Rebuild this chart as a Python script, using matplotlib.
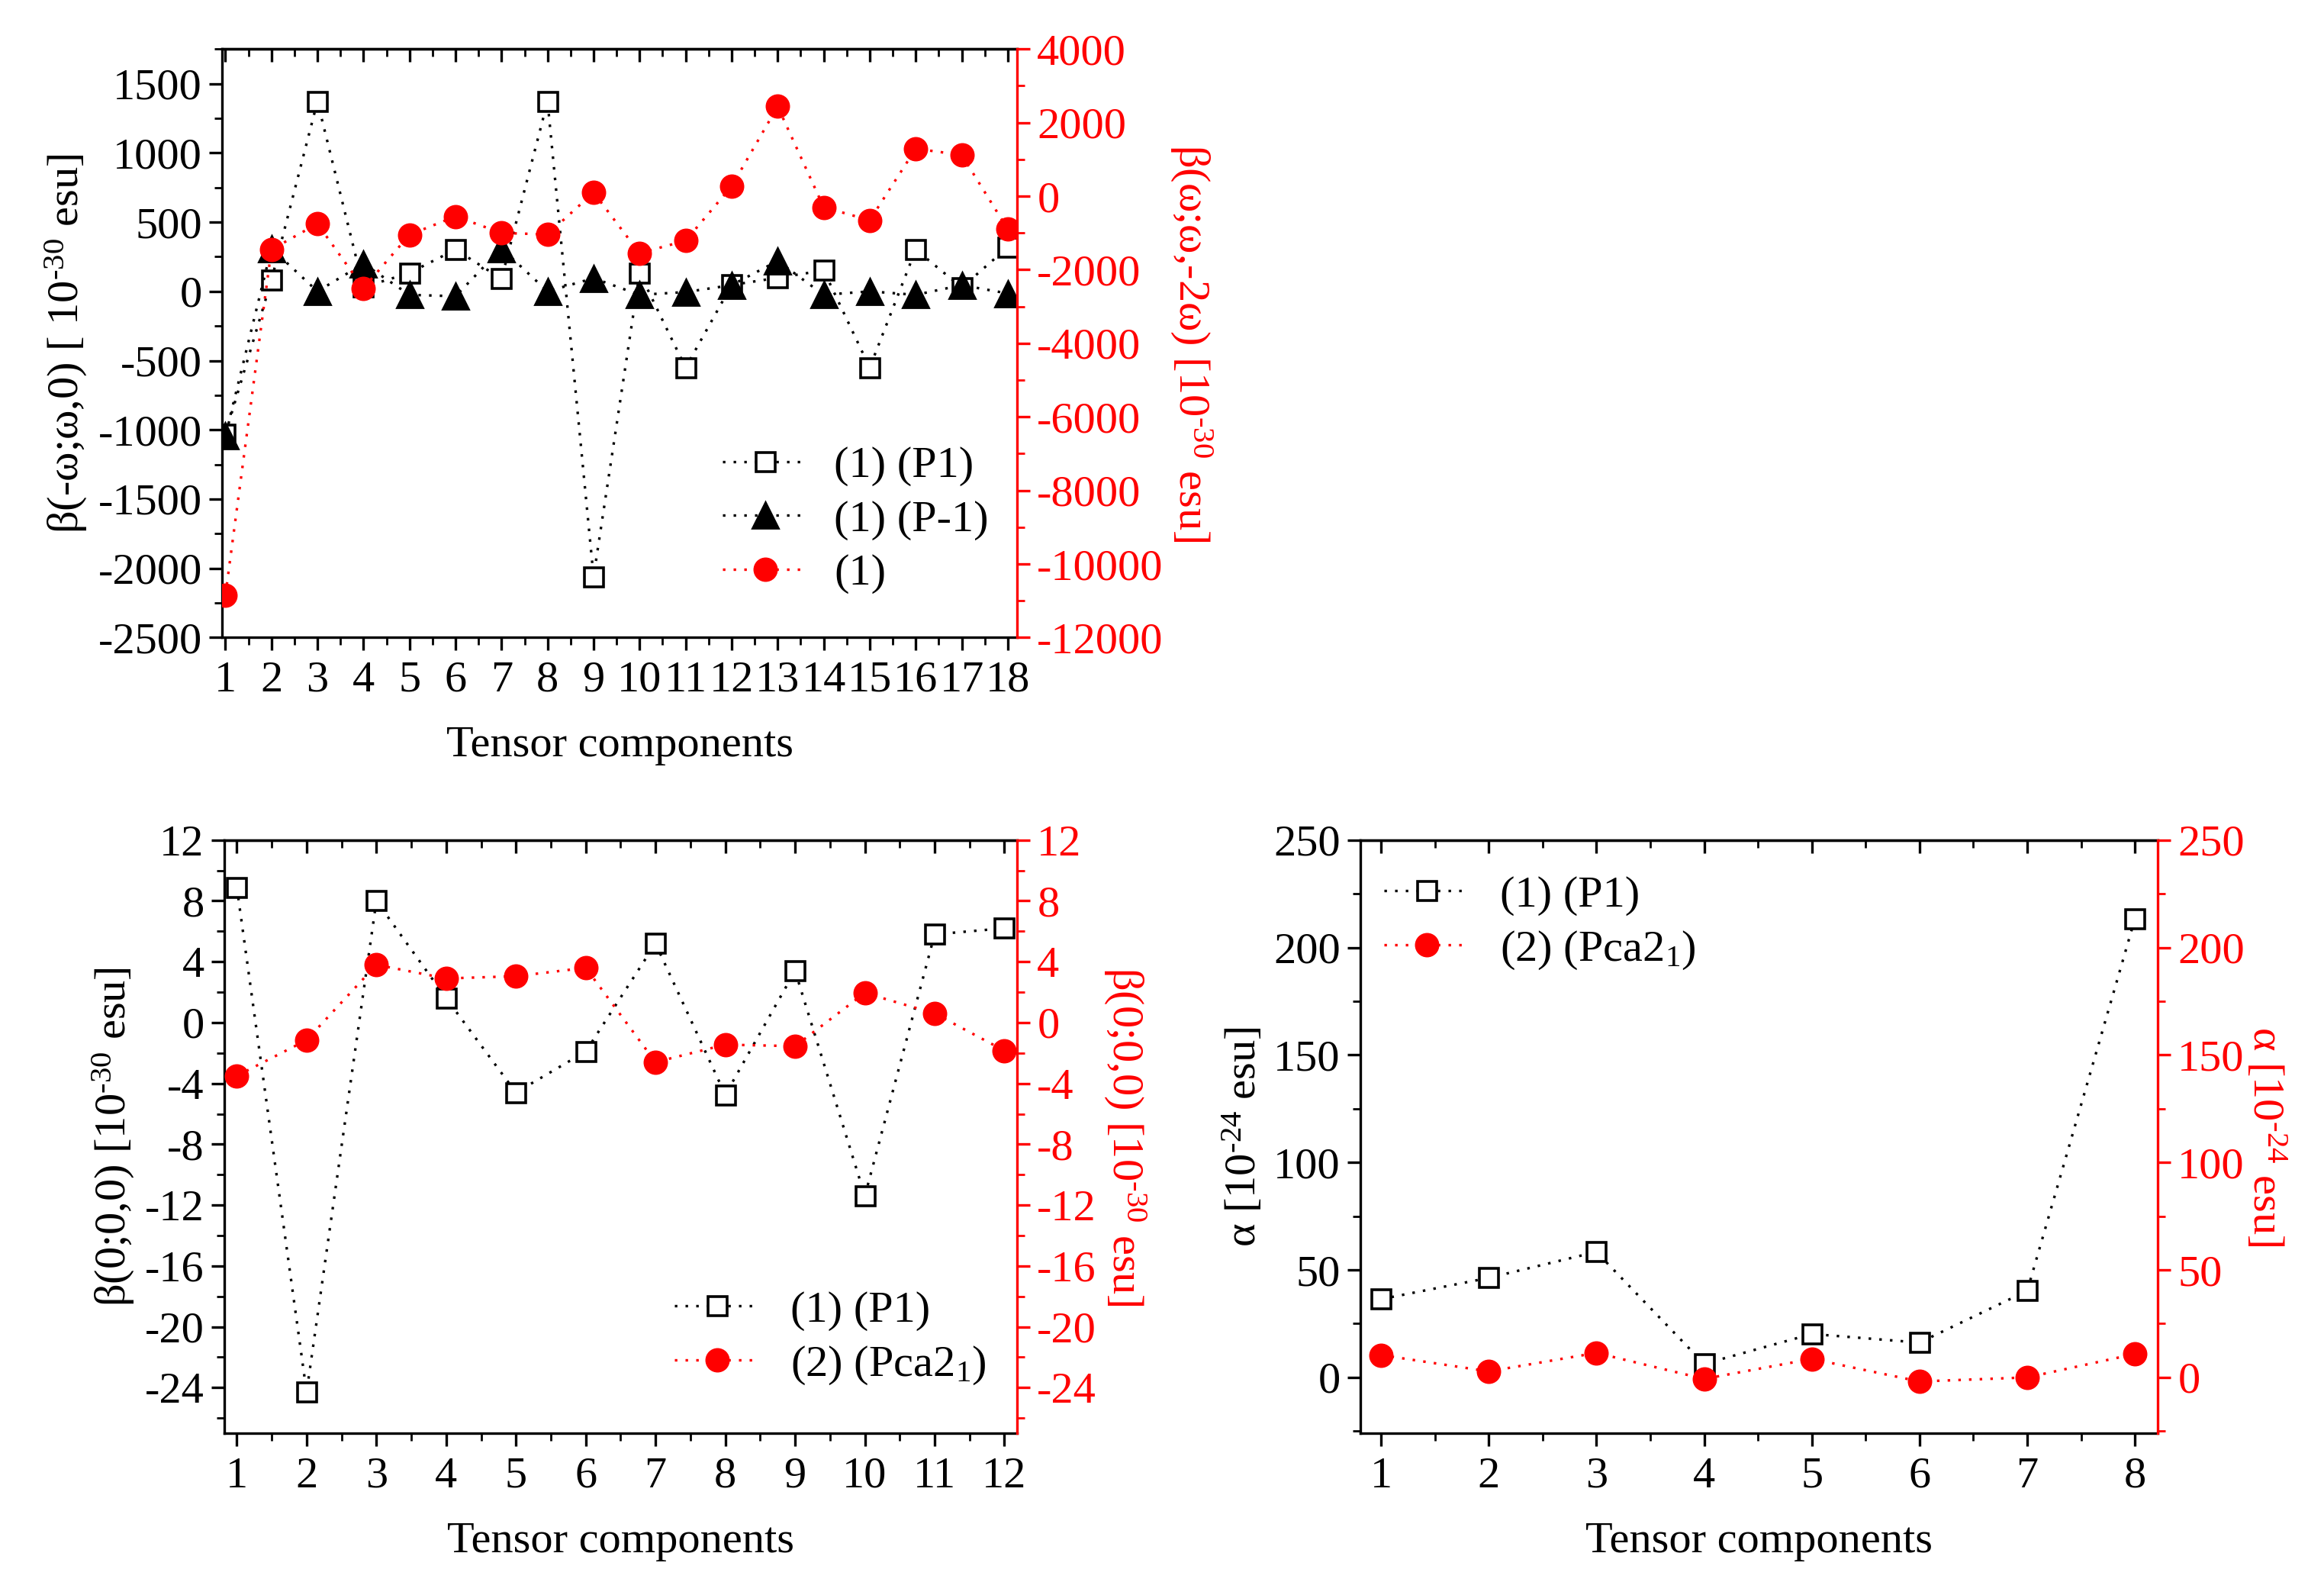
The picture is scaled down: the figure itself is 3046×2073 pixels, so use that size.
import matplotlib
matplotlib.use("Agg")
import matplotlib.pyplot as plt
from matplotlib.ticker import MultipleLocator

plt.rcParams['font.family'] = ['Liberation Serif', 'DejaVu Serif']
plt.rcParams['mathtext.fontset'] = 'custom'
plt.rcParams['mathtext.rm'] = 'Liberation Serif'
plt.rcParams['mathtext.it'] = 'Liberation Serif:italic'
plt.rcParams['axes.unicode_minus'] = False

# ---------------- data ----------------
x18 = list(range(1, 19))
p1_dyn = [-1030, 81, 1372, 30, 133, 302, 91, 1372, -2060, 133, -551, 46, 98, 151, -551, 302, 28, 319]
pm1_dyn = [-1042, 310, 0, 200, -25, -35, 310, 0, 95, -25, -5, 45, 220, -25, 0, -25, 45, -15]
shg_1 = [-10850, -1450, -750, -2500, -1050, -550, -1000, -1040, 100, -1550, -1210, 270, 2440, -300, -655, 1290, 1120, -900]

x12 = list(range(1, 13))
p1_static = [8.9, -24.3, 8.0, 1.6, -4.6, -1.9, 5.2, -4.75, 3.4, -11.4, 5.8, 6.2]
pca_static = [-3.5, -1.15, 3.8, 2.9, 3.05, 3.6, -2.6, -1.45, -1.55, 1.95, 0.6, -1.85]

x8 = list(range(1, 9))
p1_alpha = [36.4, 46.3, 58.4, 6.3, 20.2, 16.2, 40.3, 213.5]
pca_alpha = [10.4, 2.8, 11.4, -0.7, 8.6, -1.9, 0.0, 10.9]

RED = '#ff0000'
FS = 21
LS = (0, (1, 3.2))
LW = 1.2

fig = plt.figure(figsize=(15.23, 10.365), dpi=200)


def style_axes(ax, ax2, xmaj, xmin, ymaj, ymin, y2maj, y2min):
    for s in ['left', 'bottom', 'top']:
        ax.spines[s].set_linewidth(1.2)
        ax.spines[s].set_color('black')
    ax.spines['right'].set_visible(False)
    for s in ['left', 'bottom', 'top']:
        ax2.spines[s].set_visible(False)
    ax2.spines['right'].set_color(RED)
    ax2.spines['right'].set_linewidth(1.2)
    ax.xaxis.set_major_locator(MultipleLocator(xmaj))
    ax.xaxis.set_minor_locator(MultipleLocator(xmin))
    ax.yaxis.set_major_locator(MultipleLocator(ymaj))
    ax.yaxis.set_minor_locator(MultipleLocator(ymin))
    ax2.yaxis.set_major_locator(MultipleLocator(y2maj))
    ax2.yaxis.set_minor_locator(MultipleLocator(y2min))
    ax.tick_params(axis='both', which='major', direction='out', length=6, width=1.2,
                   labelsize=FS, top=False, right=False)
    ax.tick_params(axis='x', which='major', pad=5)
    ax.tick_params(axis='both', which='minor', direction='out', length=3.5, width=1.0,
                   top=False, right=False)
    ax2.tick_params(axis='y', which='major', direction='out', length=6, width=1.2,
                    labelsize=FS, colors=RED)
    ax2.tick_params(axis='y', which='minor', direction='out', length=3.5, width=1.0, colors=RED)
    sec = ax.secondary_xaxis('top')
    sec.xaxis.set_major_locator(MultipleLocator(xmaj))
    sec.xaxis.set_minor_locator(MultipleLocator(xmin))
    sec.tick_params(axis='x', which='major', direction='in', length=6, width=1.2, labeltop=False)
    sec.tick_params(axis='x', which='minor', direction='in', length=3.5, width=1.0)
    sec.spines['top'].set_linewidth(1.2)


# ---------------- top panel ----------------
ax = fig.add_axes([0.0956, 0.597, 0.342, 0.372])
ax2 = ax.twinx()
l1, = ax.plot(x18, p1_dyn, linestyle=LS, color='black', lw=LW, marker='s', ms=9,
              mfc='white', mec='black', mew=1.3, label='(1) (P1)')
l2, = ax.plot(x18, pm1_dyn, linestyle=LS, color='black', lw=LW, marker='^', ms=12,
              mfc='black', mec='black', label='(1) (P-1)')
l3, = ax2.plot(x18, shg_1, linestyle=LS, color=RED, lw=LW, marker='o', ms=10.5,
               mfc=RED, mec=RED, label='(1)')
ax.set_xlim(0.93, 18.2)
ax.set_ylim(-2500, 1750)
ax2.set_ylim(-12000, 4000)
style_axes(ax, ax2, 1, 0.5, 500, 250, 2000, 1000)
ax.set_xticks(x18)
ax.set_xlabel('Tensor components', fontsize=FS, labelpad=12)
ax.set_ylabel(r'β(-ω;ω,0) [ 10$^{\text{-30}}$ esu]', fontsize=FS, labelpad=4)
ax2.set_ylabel(r'β(ω;ω,-2ω) [10$^{\text{-30}}$ esu]', fontsize=FS, color=RED, rotation=270, labelpad=24)
ax.legend(handles=[l1, l2, l3], loc='center left', bbox_to_anchor=(0.63, 0.20),
          frameon=False, fontsize=FS, handlelength=1.9, handletextpad=0.6,
          labelspacing=0.3, borderaxespad=0, borderpad=0, numpoints=1)

# ---------------- bottom-left panel ----------------
bx = fig.add_axes([0.0965, 0.094, 0.3411, 0.375])
bx2 = bx.twinx()
m1, = bx.plot(x12, p1_static, linestyle=LS, color='black', lw=LW, marker='s', ms=9,
              mfc='white', mec='black', mew=1.3, label='(1) (P1)')
m2, = bx2.plot(x12, pca_static, linestyle=LS, color=RED, lw=LW, marker='o', ms=10.5,
               mfc=RED, mec=RED, label=r'(2) (Pca2$_1$)')
bx.set_xlim(0.82, 12.18)
bx.set_ylim(-27, 12)
bx2.set_ylim(-27, 12)
style_axes(bx, bx2, 1, 0.5, 4, 2, 4, 2)
bx.set_xlabel('Tensor components', fontsize=FS, labelpad=12)
bx.set_ylabel(r'β(0;0,0) [10$^{\text{-30}}$ esu]', fontsize=FS, labelpad=4)
bx2.set_ylabel(r'β(0;0,0) [10$^{\text{-30}}$ esu]', fontsize=FS, color=RED, rotation=270, labelpad=24)
bx.legend(handles=[m1, m2], loc='center left', bbox_to_anchor=(0.568, 0.16),
          frameon=False, fontsize=FS, handlelength=1.9, handletextpad=0.7,
          labelspacing=0.3, borderaxespad=0, borderpad=0, numpoints=1)

# ---------------- bottom-right panel ----------------
cx = fig.add_axes([0.5854, 0.094, 0.343, 0.375])
cx2 = cx.twinx()
n1, = cx.plot(x8, p1_alpha, linestyle=LS, color='black', lw=LW, marker='s', ms=9,
              mfc='white', mec='black', mew=1.3, label='(1) (P1)')
n2, = cx2.plot(x8, pca_alpha, linestyle=LS, color=RED, lw=LW, marker='o', ms=10.5,
               mfc=RED, mec=RED, label=r'(2) (Pca2$_1$)')
cx.set_xlim(0.81, 8.21)
cx.set_ylim(-26, 250)
cx2.set_ylim(-26, 250)
style_axes(cx, cx2, 1, 0.5, 50, 25, 50, 25)
cx.set_xlabel('Tensor components', fontsize=FS, labelpad=12)
cx.set_ylabel(r'α [10$^{\text{-24}}$ esu]', fontsize=FS, labelpad=4)
cx2.set_ylabel(r'α [10$^{\text{-24}}$ esu]', fontsize=FS, color=RED, rotation=270, labelpad=20)
cx.legend(handles=[n1, n2], loc='center left', bbox_to_anchor=(0.03, 0.86),
          frameon=False, fontsize=FS, handlelength=1.9, handletextpad=0.7,
          labelspacing=0.3, borderaxespad=0, borderpad=0, numpoints=1)

fig.savefig('out.png', dpi=200)
